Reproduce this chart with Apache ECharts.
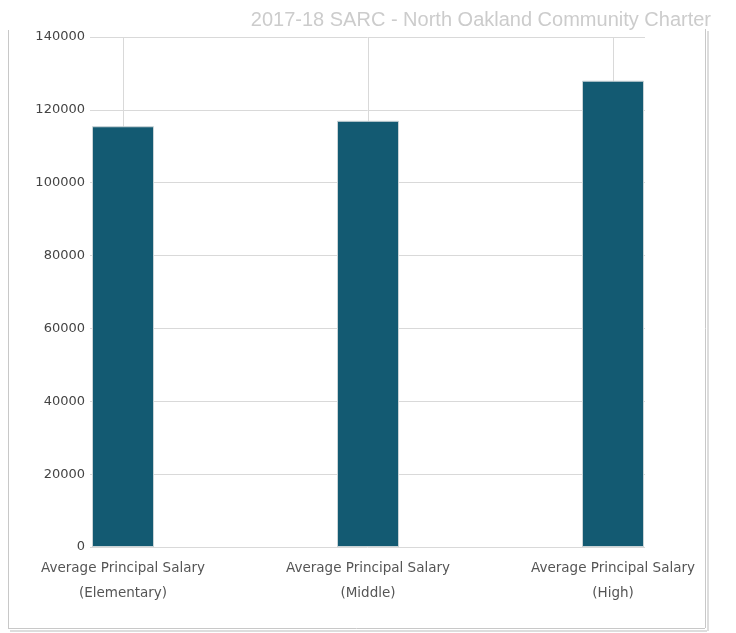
<!DOCTYPE html>
<html><head><meta charset="utf-8">
<script src="https://cdn.jsdelivr.net/npm/echarts@6/dist/echarts.min.js"></script>
<style>html,body{margin:0;padding:0;background:#fff}#c{width:736px;height:633px}</style>
</head><body><div id="c"></div>
<script>
const titleText = "2017-18 SARC - North Oakland Community Charter";
const categories = ["Average Principal Salary\n(Elementary)", "Average Principal Salary\n(Middle)", "Average Principal Salary\n(High)"];
const salaries = [115500, 117000, 128000];
const yMin = 0, yMax = 140000, yStep = 20000;

const chart = echarts.init(document.getElementById('c'));
chart.setOption({
  animation: false,
  title: { text: titleText, right: 20, top: 5, textStyle: { color: '#cccccc', fontSize: 20, fontWeight: 'normal', fontFamily: 'Liberation Sans' } },
  graphic: [
    { type: 'line', shape: { x1: 8.5, y1: 30, x2: 8.5, y2: 628 }, style: { stroke: '#c8c8c8', lineWidth: 1 } },
    { type: 'line', shape: { x1: 8, y1: 628.5, x2: 705, y2: 628.5 }, style: { stroke: '#c8c8c8', lineWidth: 1 } },
    { type: 'line', shape: { x1: 10, y1: 631, x2: 707, y2: 631 }, style: { stroke: '#dddddd', lineWidth: 2 } },
    { type: 'line', shape: { x1: 705.5, y1: 29, x2: 705.5, y2: 628 }, style: { stroke: '#c8c8c8', lineWidth: 1 } },
    { type: 'line', shape: { x1: 708, y1: 31, x2: 708, y2: 631 }, style: { stroke: '#dddddd', lineWidth: 2 } }
  ],
  grid: [
    { left: 90, right: 91, top: 37, bottom: 86 },
    { left: 123, right: 123, top: 37, bottom: 86 }
  ],
  xAxis: [
    { gridIndex: 0, type: 'value', show: false },
    { gridIndex: 1, type: 'category', data: categories, boundaryGap: false,
      axisLine: { show: false }, axisTick: { show: false },
      splitLine: { show: true, lineStyle: { color: '#d9d9d9', width: 1 } },
      axisLabel: { color: '#555', fontSize: 13.5, fontFamily: 'DejaVu Sans', lineHeight: 25, margin: 9, interval: 0 } }
  ],
  yAxis: [
    { gridIndex: 0, type: 'value', min: yMin, max: yMax, interval: yStep,
      axisLine: { show: false }, axisTick: { show: false },
      splitLine: { lineStyle: { color: '#d9d9d9', width: 1 } },
      axisLabel: { color: '#444', fontSize: 13, fontFamily: 'DejaVu Sans', margin: 5, padding: [5, 0, 0, 0], formatter: v => String(v) } },
    { gridIndex: 1, type: 'value', min: yMin, max: yMax, interval: yStep, show: false, splitLine: { show: false } }
  ],
  series: [{
    type: 'bar', xAxisIndex: 1, yAxisIndex: 1, data: salaries, barWidth: 62,
    itemStyle: { color: '#135a72', borderColor: '#c9d3d6', borderWidth: 1 }
  }]
});
</script></body></html>
